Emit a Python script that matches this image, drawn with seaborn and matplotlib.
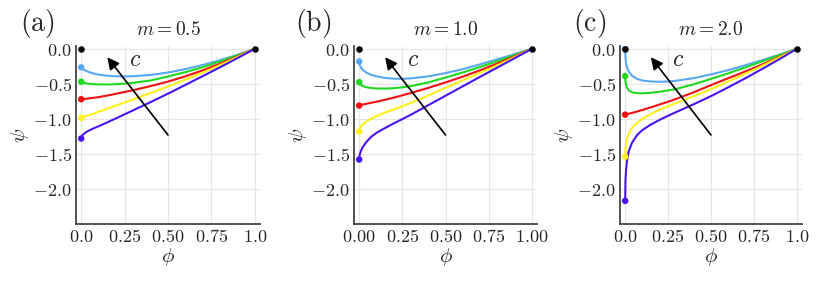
import numpy as np
import pandas as pd
import matplotlib
matplotlib.use("Agg")
import matplotlib.pyplot as plt
import seaborn as sns

phi = [0, 0.002, 0.005, 0.01, 0.02, 0.04, 0.07, 0.1, 0.15, 0.2, 0.25, 0.3,
       0.4, 0.5, 0.6, 0.7, 0.8, 0.9, 1.0]

curve_names = ["blue", "green", "red", "yellow", "purple"]
curve_colors = ["#58a8f0", "#1fd81f", "#f01010", "#fff01a", "#4a14f0"]

# psi values, one list per curve (blue, green, red, yellow, purple)
psi_m05 = [
    [-0.265, -0.272, -0.28, -0.29, -0.305, -0.328, -0.352, -0.368, -0.384, -0.392, -0.394, -0.391, -0.373, -0.338, -0.29, -0.23, -0.163, -0.085, 0],
    [-0.47, -0.473, -0.477, -0.482, -0.489, -0.498, -0.505, -0.508, -0.509, -0.505, -0.497, -0.485, -0.452, -0.395, -0.333, -0.262, -0.18, -0.093, 0],
    [-0.72, -0.72, -0.719, -0.718, -0.715, -0.71, -0.70, -0.69, -0.667, -0.642, -0.617, -0.59, -0.532, -0.468, -0.393, -0.307, -0.212, -0.109, 0],
    [-0.985, -0.982, -0.978, -0.973, -0.965, -0.95, -0.927, -0.898, -0.855, -0.81, -0.765, -0.72, -0.63, -0.537, -0.44, -0.34, -0.232, -0.118, 0],
    [-1.28, -1.256, -1.242, -1.226, -1.204, -1.172, -1.137, -1.105, -1.05, -0.993, -0.935, -0.877, -0.76, -0.64, -0.515, -0.39, -0.263, -0.133, 0],
]
psi_m10 = [
    [-0.18, -0.215, -0.24, -0.265, -0.298, -0.338, -0.372, -0.393, -0.415, -0.426, -0.428, -0.422, -0.393, -0.347, -0.29, -0.222, -0.15, -0.076, 0],
    [-0.476, -0.49, -0.502, -0.515, -0.53, -0.547, -0.56, -0.566, -0.568, -0.562, -0.55, -0.532, -0.48, -0.41, -0.338, -0.26, -0.177, -0.09, 0],
    [-0.81, -0.808, -0.805, -0.80, -0.795, -0.785, -0.77, -0.755, -0.727, -0.697, -0.664, -0.63, -0.558, -0.48, -0.397, -0.307, -0.21, -0.107, 0],
    [-1.18, -1.149, -1.13, -1.11, -1.081, -1.04, -0.995, -0.96, -0.91, -0.865, -0.82, -0.772, -0.667, -0.557, -0.45, -0.343, -0.235, -0.12, 0],
    [-1.58, -1.525, -1.493, -1.457, -1.406, -1.334, -1.255, -1.20, -1.13, -1.065, -1.003, -0.94, -0.805, -0.67, -0.535, -0.40, -0.268, -0.135, 0],
]
psi_m20 = [
    [0.0, -0.13, -0.2, -0.26, -0.32, -0.385, -0.43, -0.452, -0.467, -0.47, -0.467, -0.455, -0.418, -0.365, -0.305, -0.235, -0.16, -0.082, 0],
    [-0.39, -0.47, -0.51, -0.55, -0.59, -0.62, -0.633, -0.635, -0.628, -0.613, -0.594, -0.572, -0.505, -0.43, -0.35, -0.265, -0.178, -0.09, 0],
    [-0.94, -0.938, -0.936, -0.933, -0.927, -0.915, -0.895, -0.873, -0.835, -0.795, -0.755, -0.712, -0.62, -0.518, -0.42, -0.323, -0.222, -0.114, 0],
    [-1.54, -1.42, -1.36, -1.29, -1.215, -1.13, -1.055, -1.0, -0.93, -0.87, -0.818, -0.77, -0.675, -0.575, -0.467, -0.355, -0.24, -0.122, 0],
    [-2.17, -1.87, -1.74, -1.61, -1.47, -1.34, -1.23, -1.16, -1.08, -1.015, -0.955, -0.90, -0.79, -0.675, -0.55, -0.42, -0.285, -0.145, 0],
]

panel_labels = ["(a)", "(b)", "(c)"]
m_values = ["0.5", "1.0", "2.0"]
xtick_vals = [0, 0.25, 0.5, 0.75, 1.0]
xtick_text = [["0.0", "0.25", "0.50", "0.75", "1.0"],
              ["0.00", "0.25", "0.50", "0.75", "1.00"],
              ["0.0", "0.25", "0.50", "0.75", "1.0"]]
ytick_vals = [0.0, -0.5, -1.0, -1.5, -2.0]
ytick_text = ["0.0", "-0.5", "-1.0", "-1.5", "-2.0"]
end_phi = [0, 1]
end_psi = [0, 0]

sns.set_style("white")
plt.rcParams["mathtext.fontset"] = "cm"
plt.rcParams["font.family"] = ["DejaVu Serif"]

fig = plt.figure(figsize=(8.3, 2.91), dpi=100)
W, H = 830, 291
rects = [(76, 184), (354, 183), (620, 182)]

for i, psi_set in enumerate([psi_m05, psi_m10, psi_m20]):
    left, width = rects[i]
    ax = fig.add_axes([left / W, 67 / H, width / W, 178 / H])

    rows = []
    for name, vals in zip(curve_names, psi_set):
        for p, v in zip(phi, vals):
            rows.append((name, p, v))
    df = pd.DataFrame(rows, columns=["curve", "phi", "psi"])

    ax.grid(True, color="#e6e6e6", lw=0.8)
    ax.set_axisbelow(True)
    sns.lineplot(data=df, x="phi", y="psi", hue="curve", palette=curve_colors,
                 hue_order=curve_names, estimator=None, sort=False,
                 legend=False, lw=1.5, ax=ax)
    starts = df[df["phi"] == 0]
    sns.scatterplot(data=starts, x="phi", y="psi", hue="curve", palette=curve_colors,
                    hue_order=curve_names, s=22, linewidth=0, legend=False,
                    ax=ax, zorder=4)
    sns.scatterplot(x=end_phi, y=end_psi, color="black", s=22, linewidth=0,
                    ax=ax, zorder=5)

    ax.annotate("", xy=(0.15, -0.12), xytext=(0.5, -1.23),
                arrowprops=dict(arrowstyle="-|>", color="black", lw=1.2,
                                mutation_scale=18, shrinkA=0, shrinkB=0))
    ax.text(0.31, -0.15, r"$c$", fontsize=17, ha="center", va="center")

    ax.set_xlim(-0.03, 1.03)
    ax.set_ylim(-2.5, 0.04)
    ax.set_xticks(xtick_vals)
    ax.set_xticklabels([r"$%s$" % t for t in xtick_text[i]], fontsize=13)
    ax.set_yticks(ytick_vals)
    ax.set_yticklabels([r"$%s$" % t for t in ytick_text], fontsize=13)
    ax.tick_params(length=0, pad=3)
    for s in ["top", "right"]:
        ax.spines[s].set_visible(False)
    for s in ["left", "bottom"]:
        ax.spines[s].set_color("#444444")
        ax.spines[s].set_linewidth(1.3)

    ax.set_xlabel(r"$\phi$", fontsize=15, labelpad=0)
    ax.set_ylabel(r"$\psi$", fontsize=15, labelpad=2)
    ax.set_title(r"$m = %s$" % m_values[i], fontsize=14, pad=8)

label_x = [37, 313, 590]
for lx, lab in zip(label_x, panel_labels):
    fig.text(lx / W, 1 - 24 / H, r"$\mathrm{%s}$" % lab, fontsize=20,
             ha="center", va="center")

fig.savefig("out.png", dpi=100)
